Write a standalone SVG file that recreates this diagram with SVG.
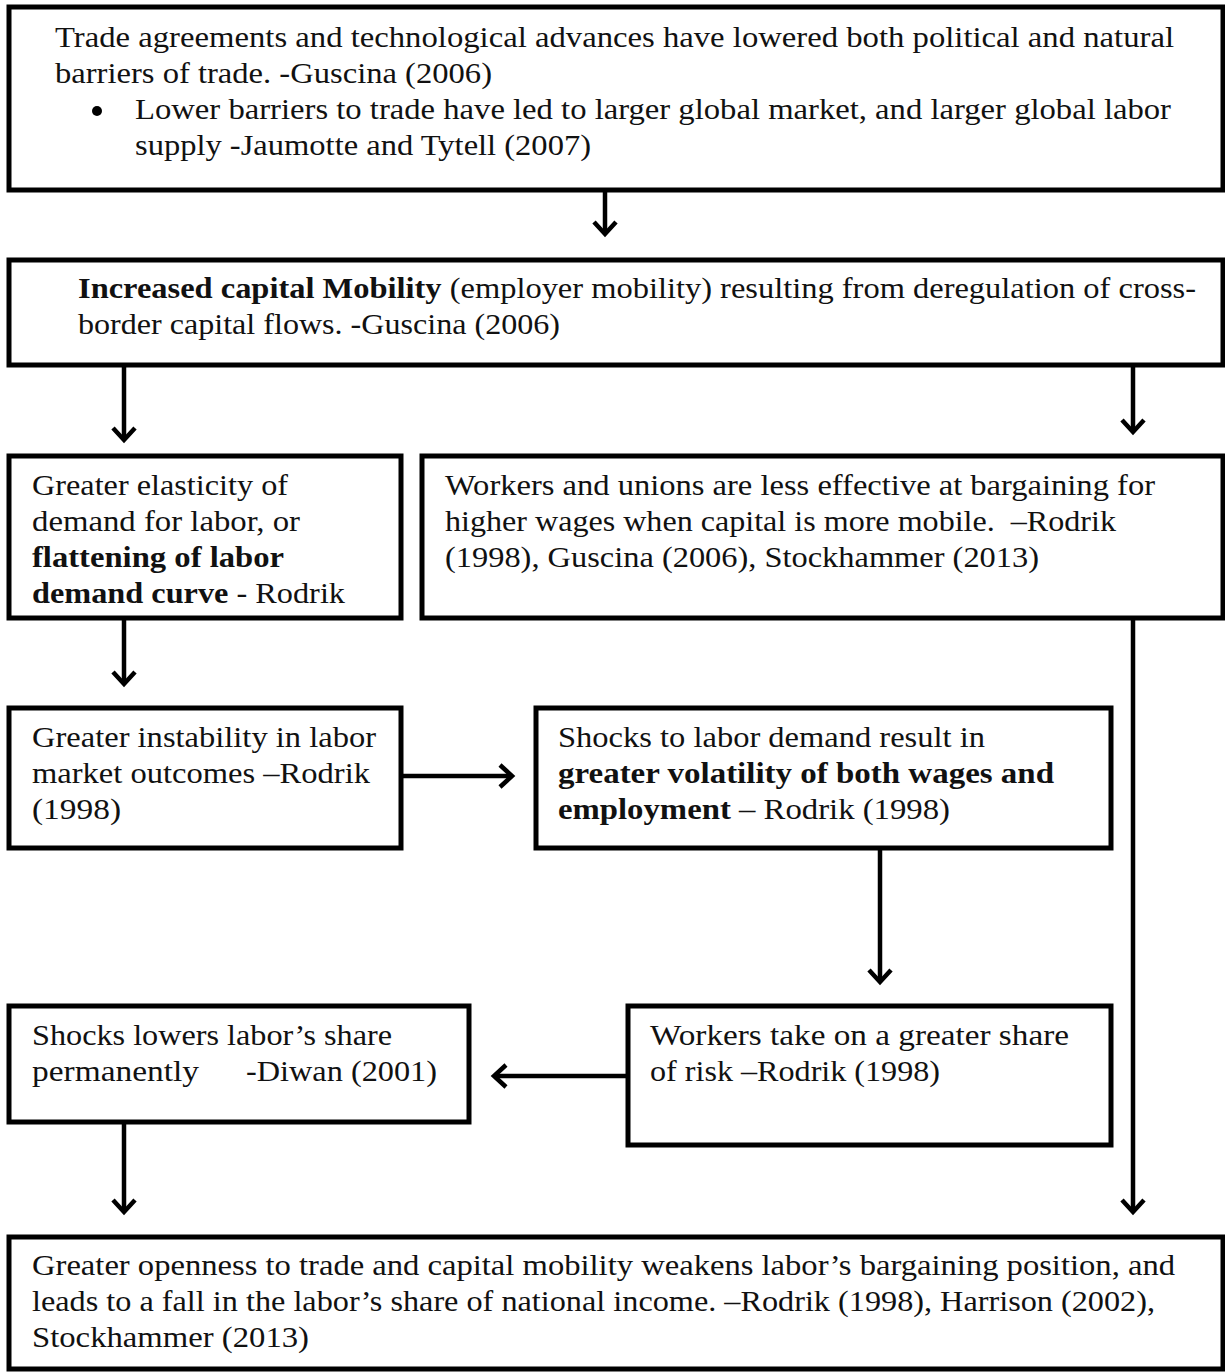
<svg xmlns="http://www.w3.org/2000/svg" width="1225" height="1372" viewBox="0 0 1225 1372">
<style>
.box{fill:#fff;stroke:#000;stroke-width:5}
text{font-family:"Liberation Serif","Times New Roman",serif;font-size:30px;fill:#111}
.b{font-weight:bold}
.conn{stroke:#000;stroke-width:4.5;fill:none}
</style>
<defs>
<marker id="arr" markerUnits="userSpaceOnUse" markerWidth="30" markerHeight="30" viewBox="-15 -15 30 30" refX="0" refY="0" orient="auto">
<path d="M-12,-11 L0,0 L-12,11" fill="none" stroke="#000" stroke-width="4.5" stroke-linejoin="miter"/>
</marker>
</defs>
<rect width="1225" height="1372" fill="#fff"/>
<g id="n1">
<rect class="box" x="9" y="7" width="1214" height="183"/>
<text x="55" y="47" textLength="1119" lengthAdjust="spacingAndGlyphs">Trade agreements and technological advances have lowered both political and natural</text>
<text x="55" y="83" textLength="437" lengthAdjust="spacingAndGlyphs">barriers of trade. -Guscina (2006)</text>
<circle cx="97" cy="111" r="5" fill="#000"/>
<text x="135" y="119" textLength="1036" lengthAdjust="spacingAndGlyphs">Lower barriers to trade have led to larger global market, and larger global labor</text>
<text x="135" y="155" textLength="456" lengthAdjust="spacingAndGlyphs">supply -Jaumotte and Tytell (2007)</text>
</g>
<g id="n2">
<rect class="box" x="9" y="260" width="1214" height="105"/>
<text x="78" y="298" textLength="1118" lengthAdjust="spacingAndGlyphs"><tspan class="b">Increased capital Mobility</tspan> (employer mobility) resulting from deregulation of cross-</text>
<text x="78" y="334" textLength="482" lengthAdjust="spacingAndGlyphs">border capital flows. -Guscina (2006)</text>
</g>
<g id="n3">
<rect class="box" x="9" y="456" width="392" height="162"/>
<text x="32" y="495" textLength="256" lengthAdjust="spacingAndGlyphs">Greater elasticity of</text>
<text x="32" y="531" textLength="268" lengthAdjust="spacingAndGlyphs">demand for labor, or</text>
<text x="32" y="567" class="b" textLength="252" lengthAdjust="spacingAndGlyphs">flattening of labor</text>
<text x="32" y="603" textLength="313" lengthAdjust="spacingAndGlyphs"><tspan class="b">demand curve</tspan> - Rodrik</text>
</g>
<g id="n4">
<rect class="box" x="422" y="456" width="801" height="162"/>
<text x="445" y="495" textLength="710" lengthAdjust="spacingAndGlyphs">Workers and unions are less effective at bargaining for</text>
<text x="445" y="531" textLength="671" lengthAdjust="spacingAndGlyphs" xml:space="preserve">higher wages when capital is more mobile.  –Rodrik</text>
<text x="445" y="567" textLength="594" lengthAdjust="spacingAndGlyphs">(1998), Guscina (2006), Stockhammer (2013)</text>
</g>
<g id="n5">
<rect class="box" x="9" y="708" width="392" height="140"/>
<text x="32" y="747" textLength="344" lengthAdjust="spacingAndGlyphs">Greater instability in labor</text>
<text x="32" y="783" textLength="338" lengthAdjust="spacingAndGlyphs">market outcomes –Rodrik</text>
<text x="32" y="819" textLength="89" lengthAdjust="spacingAndGlyphs">(1998)</text>
</g>
<g id="n6">
<rect class="box" x="536" y="708" width="575" height="140"/>
<text x="558" y="747" textLength="427" lengthAdjust="spacingAndGlyphs">Shocks to labor demand result in</text>
<text x="558" y="783" class="b" textLength="496" lengthAdjust="spacingAndGlyphs">greater volatility of both wages and</text>
<text x="558" y="819" textLength="392" lengthAdjust="spacingAndGlyphs"><tspan class="b">employment</tspan> – Rodrik (1998)</text>
</g>
<g id="n7">
<rect class="box" x="628" y="1006" width="483" height="139"/>
<text x="650" y="1045" textLength="419" lengthAdjust="spacingAndGlyphs">Workers take on a greater share</text>
<text x="650" y="1081" textLength="290" lengthAdjust="spacingAndGlyphs">of risk –Rodrik (1998)</text>
</g>
<g id="n8">
<rect class="box" x="9" y="1006" width="460" height="116"/>
<text x="32" y="1045" textLength="360" lengthAdjust="spacingAndGlyphs">Shocks lowers labor’s share</text>
<text x="32" y="1081" xml:space="preserve"><tspan textLength="167" lengthAdjust="spacingAndGlyphs">permanently</tspan><tspan x="246" textLength="191" lengthAdjust="spacingAndGlyphs">-Diwan (2001)</tspan></text>
</g>
<g id="n9">
<rect class="box" x="9" y="1237" width="1214" height="132"/>
<text x="32" y="1275" textLength="1143" lengthAdjust="spacingAndGlyphs">Greater openness to trade and capital mobility weakens labor’s bargaining position, and</text>
<text x="32" y="1311" textLength="1123" lengthAdjust="spacingAndGlyphs">leads to a fall in the labor’s share of national income. –Rodrik (1998), Harrison (2002),</text>
<text x="32" y="1347" textLength="277" lengthAdjust="spacingAndGlyphs">Stockhammer (2013)</text>
</g>
<g id="connectors">
<line class="conn" x1="605" y1="192" x2="605" y2="234" marker-end="url(#arr)"/>
<line class="conn" x1="124" y1="367" x2="124" y2="440" marker-end="url(#arr)"/>
<line class="conn" x1="1133" y1="367" x2="1133" y2="432" marker-end="url(#arr)"/>
<line class="conn" x1="124" y1="620" x2="124" y2="684" marker-end="url(#arr)"/>
<line class="conn" x1="1133" y1="620" x2="1133" y2="1212" marker-end="url(#arr)"/>
<line class="conn" x1="403" y1="776" x2="512" y2="776" marker-end="url(#arr)"/>
<line class="conn" x1="880" y1="850" x2="880" y2="982" marker-end="url(#arr)"/>
<line class="conn" x1="626" y1="1076" x2="494" y2="1076" marker-end="url(#arr)"/>
<line class="conn" x1="124" y1="1124" x2="124" y2="1212" marker-end="url(#arr)"/>
</g>
</svg>
